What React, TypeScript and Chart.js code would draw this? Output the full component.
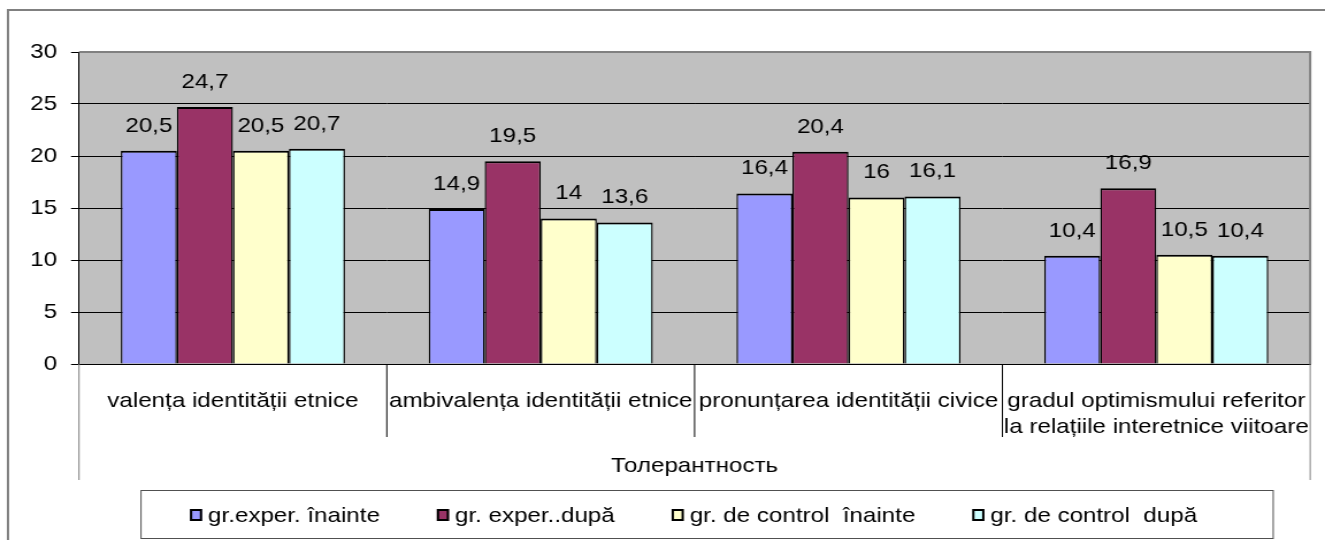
import React, { useEffect, useRef } from "react";
import { Chart, registerables } from "chart.js";

Chart.register(...registerables);

const categories: (string | string[])[] = [
  "valența identității etnice",
  "ambivalența identității etnice",
  "pronunțarea identității civice",
  ["gradul optimismului referitor", "la relațiile interetnice viitoare"],
];
const groupLabel = "Толерантность";

const seriesNames = [
  "gr.exper. înainte",
  "gr. exper..după",
  "gr. de control  înainte",
  "gr. de control  după",
];
const expBefore = [20.5, 14.9, 16.4, 10.4];
const expAfter = [24.7, 19.5, 20.4, 16.9];
const ctrlBefore = [20.5, 14, 16, 10.5];
const ctrlAfter = [20.7, 13.6, 16.1, 10.4];
const seriesColors = ["#9999FF", "#993366", "#FFFFCC", "#CCFFFF"];

const yMin = 0;
const yMax = 30;
const yStep = 5;

const FONT = "'Liberation Sans', Arial, sans-serif";
const FS = 21;

// the reference text is horizontally wider than normal: draw on a narrower canvas, stretched by CSS
const K = 1.15;
const OUT_W = 1325;
const OUT_H = 540;
const W = Math.round(OUT_W / K);
const hx = (px: number) => px / K;

const fmt = (v: number) => String(v).replace(".", ",");

const decorPlugin = {
  id: "decor",
  beforeDraw(chart: any) {
    const { ctx, chartArea } = chart;
    ctx.save();
    ctx.strokeStyle = "#808080";
    ctx.lineWidth = 2;
    ctx.beginPath();
    ctx.moveTo(W, 10);
    ctx.lineTo(hx(8), 10);
    ctx.lineTo(hx(8), OUT_H);
    ctx.stroke();
    ctx.fillStyle = "#C0C0C0";
    ctx.fillRect(
      chartArea.left,
      chartArea.top,
      chartArea.right - chartArea.left,
      chartArea.bottom - chartArea.top
    );
    ctx.restore();
  },
  afterDatasetsDraw(chart: any) {
    const { ctx, chartArea } = chart;
    ctx.save();
    ctx.strokeStyle = "#808080";
    ctx.lineWidth = 2;
    ctx.beginPath();
    ctx.moveTo(chartArea.left, chartArea.top);
    ctx.lineTo(chartArea.right, chartArea.top);
    ctx.lineTo(chartArea.right, chartArea.bottom);
    ctx.stroke();
    ctx.fillStyle = "#000";
    ctx.font = `${FS}px ${FONT}`;
    ctx.textAlign = "center";
    ctx.textBaseline = "middle";
    chart.data.datasets.forEach((ds: any, di: number) => {
      const meta = chart.getDatasetMeta(di);
      meta.data.forEach((el: any, i: number) => {
        ctx.fillText(fmt(ds.data[i]), el.x, el.y - 25);
      });
    });
    ctx.restore();
  },
  afterDraw(chart: any) {
    const { ctx, chartArea } = chart;
    const xs = chart.scales.x;
    const n = chart.data.labels.length;
    const half = (xs.getPixelForValue(1) - xs.getPixelForValue(0)) / 2;
    const bottom = chartArea.bottom;
    ctx.save();
    for (let i = 0; i <= n; i++) {
      const x = xs.getPixelForValue(i) - half;
      const outer = i === 0 || i === n;
      ctx.strokeStyle = outer ? "#808080" : "#000";
      ctx.lineWidth = 1;
      ctx.beginPath();
      ctx.moveTo(x, bottom);
      ctx.lineTo(x, outer ? bottom + 116 : bottom + 73);
      ctx.stroke();
    }
    ctx.fillStyle = "#000";
    ctx.font = `${FS}px ${FONT}`;
    ctx.textAlign = "center";
    ctx.textBaseline = "middle";
    ctx.fillText(groupLabel, (chartArea.left + chartArea.right) / 2, bottom + 102);

    // legend
    const boxL = hx(141);
    const boxT = 490;
    const boxR = hx(1273);
    const boxB = 538;
    ctx.fillStyle = "#fff";
    ctx.fillRect(boxL, boxT, boxR - boxL, boxB - boxT);
    ctx.strokeStyle = "#505050";
    ctx.lineWidth = 1;
    ctx.strokeRect(boxL, boxT + 0.5, boxR - boxL, boxB - boxT);
    const cy = 515;
    let x = hx(190);
    const sq = hx(12);
    ctx.textAlign = "left";
    chart.data.datasets.forEach((ds: any) => {
      ctx.fillStyle = ds.backgroundColor;
      ctx.fillRect(x, cy - 6, sq, 12);
      ctx.strokeStyle = "#000";
      ctx.lineWidth = 2;
      ctx.strokeRect(x + 0.9, cy - 5, sq - 1.8, 10);
      ctx.fillStyle = "#000";
      ctx.fillText(ds.label, x + hx(18), cy + 1);
      x += hx(18) + ctx.measureText(ds.label).width + hx(57);
    });
    ctx.restore();
  },
};

export default function App() {
  const canvasRef = useRef<HTMLCanvasElement | null>(null);

  useEffect(() => {
    if (!canvasRef.current) return;
    const values = [expBefore, expAfter, ctrlBefore, ctrlAfter];
    const chart = new Chart(canvasRef.current, {
      type: "bar",
      data: {
        labels: categories as any,
        datasets: values.map((d, i) => ({
          label: seriesNames[i],
          data: d,
          backgroundColor: seriesColors[i],
          borderColor: "#000",
          borderWidth: { top: 2, left: 1.4, right: 1.4, bottom: 0 },
          borderSkipped: false,
          categoryPercentage: 0.728,
          barPercentage: 1,
        })),
      },
      options: {
        responsive: false,
        animation: false,
        devicePixelRatio: 1,
        layout: { padding: { top: 52, right: W - hx(1310), left: 0, bottom: 0 } },
        plugins: {
          legend: { display: false },
          tooltip: { enabled: false },
        },
        scales: {
          x: {
            type: "category",
            offset: true,
            grid: { display: false },
            border: { display: true, color: "#000", width: 1 },
            ticks: {
              color: "#000",
              font: { family: FONT, size: FS },
              padding: 17,
              maxRotation: 0,
              minRotation: 0,
              autoSkip: false,
            },
            afterFit: (s: any) => {
              s.height = 176;
              s.paddingLeft = 0;
              s.paddingRight = 0;
            },
          },
          y: {
            min: yMin,
            max: yMax,
            grid: {
              color: "#000",
              lineWidth: 1,
              tickLength: hx(8),
              tickColor: "#000",
            },
            border: { display: true, color: "#000", width: 1 },
            ticks: {
              stepSize: yStep,
              color: "#000",
              font: { family: FONT, size: FS },
              padding: hx(14),
            },
            afterFit: (s: any) => {
              s.width = hx(79);
            },
          },
        },
      },
      plugins: [decorPlugin],
    });
    return () => chart.destroy();
  }, []);

  return (
    <div
      style={{
        position: "absolute",
        left: 0,
        top: 0,
        width: OUT_W,
        height: OUT_H,
        background: "#fff",
        overflow: "hidden",
      }}
    >
      <canvas
        ref={canvasRef}
        width={W}
        height={OUT_H}
        style={{ display: "block", width: `${OUT_W}px`, height: `${OUT_H}px` }}
      />
    </div>
  );
}
